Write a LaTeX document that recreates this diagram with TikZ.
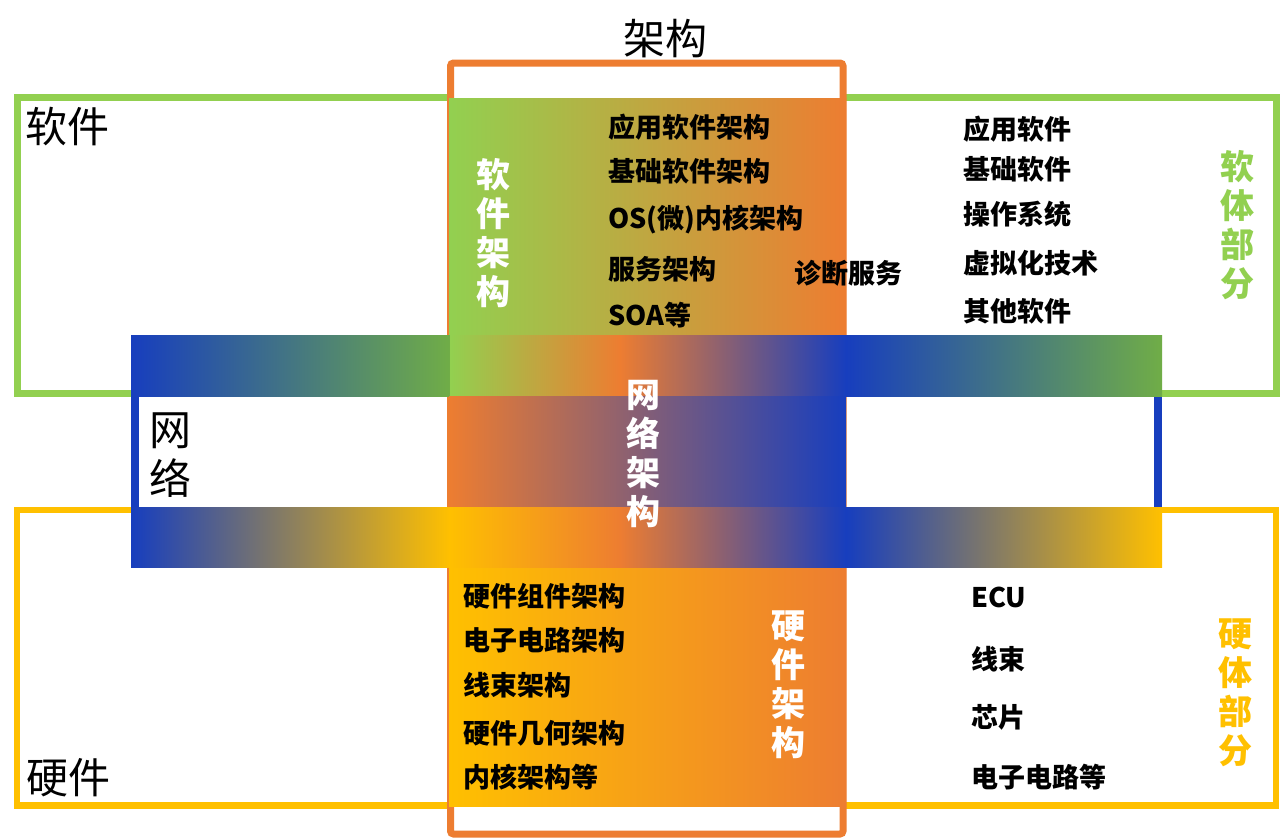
\documentclass[tikz,border=0pt]{standalone}
\usepackage{fontspec}
\setmainfont{Noto Sans CJK SC}
\definecolor{sgreen}{HTML}{92D050}
\definecolor{dgreen}{HTML}{70AD47}
\definecolor{orng}{HTML}{ED7D31}
\definecolor{yel}{HTML}{FFC000}
\definecolor{nblue}{HTML}{173EBE}
\begin{document}
\begin{tikzpicture}[x=1pt,y=-1pt,
  lbl/.style={inner sep=0, align=center, font=\fontsize{42}{49}\selectfont},
  item/.style={inner sep=0, anchor=west, font=\bfseries\fontsize{27}{30}\selectfont},
  vert/.style={inner sep=0, align=center, font=\bfseries\fontsize{34}{39}\selectfont}]
\useasboundingbox[fill=white] (0,0) rectangle (1280,838);
% outer frames
\draw[sgreen, line width=7pt] (17,97.5) rectangle (1276,393.5);
\draw[yel, line width=6.5pt] (17,510) rectangle (1276,805.5);
\draw[orng, line width=7pt, fill=white, rounded corners=3pt] (450.5,63) rectangle (843,834);
% software and hardware boxes
\shade[left color=sgreen, right color=orng] (449,98) rectangle (846,336);
\shade[left color=yel, right color=orng] (449,567) rectangle (846,806);
% network frame
\fill[nblue] (131,335) rectangle (139,567);
\fill[nblue] (1154,335) rectangle (1162,567);
\shade[left color=nblue, right color=dgreen] (131,335) rectangle (450,396);
\shade[left color=sgreen, right color=orng] (450,335) rectangle (620,396);
\shade[left color=orng, right color=nblue] (619.5,335) rectangle (846,396);
\shade[left color=nblue, right color=dgreen] (846,335) rectangle (1162,396);
\shade[left color=orng, right color=nblue] (449,396) rectangle (846,507);
\shade[left color=nblue, right color=yel] (131,507) rectangle (450,567);
\shade[left color=yel, right color=orng] (449,507) rectangle (620,567);
\shade[left color=orng, right color=nblue] (619.5,507) rectangle (846,567);
\shade[left color=nblue, right color=yel] (846,507) rectangle (1162,567);
% big labels
\node[lbl] (jg) at (665,39) {架构};
\node[lbl] (rj) at (67,127) {软件};
\node[lbl] (wl) at (170,455.5) {网\\络};
\node[lbl] (yj) at (68,778) {硬件};
% software architecture list
\node[item] (s1) at (608,127) {应用软件架构};
\node[item] (s2) at (608,171) {基础软件架构};
\node[item] (s3) at (608,220) {OS(微)内核架构};
\node[item] (s4) at (608,269) {服务架构};
\node[item] (s5) at (608,315) {SOA等};
\node[item] (zd) at (794,273.5) {诊断服务};
\node[vert, text=white] (rjjg) at (493,233.5) {软\\件\\架\\构};
% software parts list
\node[item] (p1) at (963,129) {应用软件};
\node[item] (p2) at (963,169) {基础软件};
\node[item] (p3) at (963,214.5) {操作系统};
\node[item] (p4) at (963,263.5) {虚拟化技术};
\node[item] (p5) at (963,311.5) {其他软件};
\node[vert, text=sgreen] (rtbf) at (1237,225) {软\\体\\部\\分};
% network architecture
\node[vert, text=white] (wljg) at (643,453.75) {网\\络\\架\\构};
% hardware architecture list
\node[item] (h1) at (463,596.5) {硬件组件架构};
\node[item] (h2) at (463,640) {电子电路架构};
\node[item] (h3) at (463,685) {线束架构};
\node[item] (h4) at (463,733.5) {硬件几何架构};
\node[item] (h5) at (463,777) {内核架构等};
\node[vert, text=white] (yjjg) at (788,685) {硬\\件\\架\\构};
% hardware parts list
\node[item] (q1) at (971,597.5) {ECU};
\node[item] (q2) at (971,659) {线束};
\node[item] (q3) at (971,717) {芯片};
\node[item] (q4) at (971,777) {电子电路等};
\node[vert, text=yel] (ytbf) at (1235,692.5) {硬\\体\\部\\分};
\end{tikzpicture}
\end{document}
